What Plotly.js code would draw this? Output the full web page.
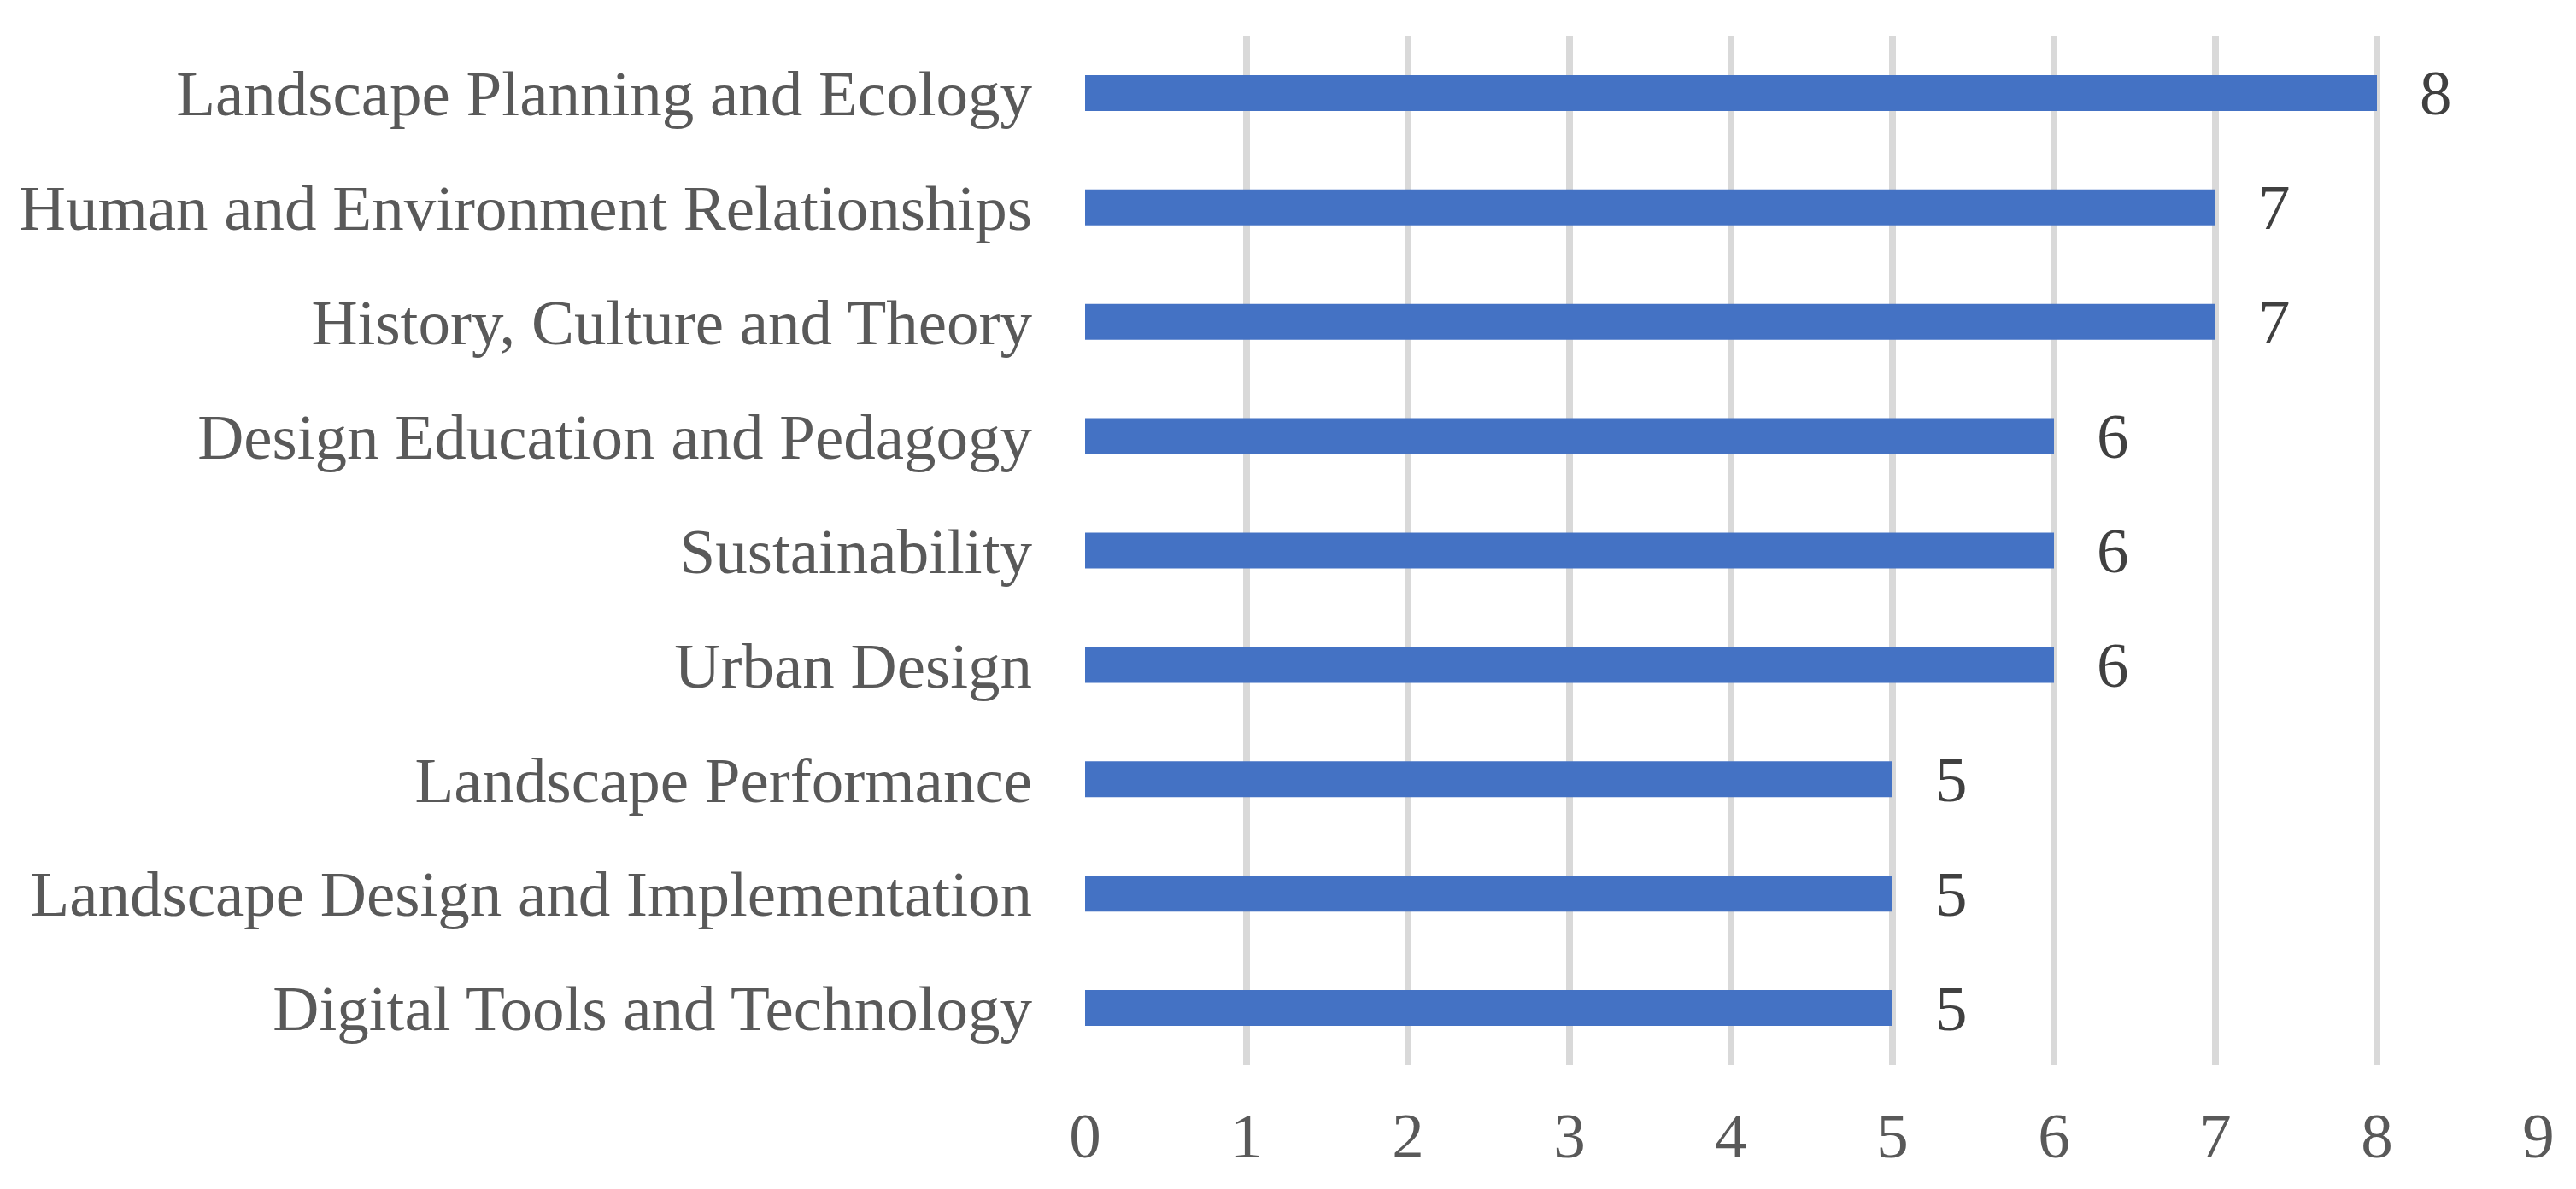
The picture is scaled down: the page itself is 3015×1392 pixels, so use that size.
<!DOCTYPE html>
<html>
<head>
<meta charset="utf-8">
<script src="https://cdn.plot.ly/plotly-3.0.1.min.js"></script>
<style>html,body{margin:0;padding:0;background:#fff;}#chart{width:3015px;height:1392px;}</style>
</head>
<body>
<div id="chart"></div>
<script>
const categories = [
  "Landscape Planning and Ecology",
  "Human and Environment Relationships",
  "History, Culture and Theory",
  "Design Education and Pedagogy",
  "Sustainability",
  "Urban Design",
  "Landscape Performance",
  "Landscape Design and Implementation",
  "Digital Tools and Technology"
];
const counts = [8, 7, 7, 6, 6, 6, 5, 5, 5];
const xTicks = [0, 1, 2, 3, 4, 5, 6, 7, 8, 9];

const fontFamily = '"Liberation Serif", "Times New Roman", serif';

const trace = {
  type: 'bar',
  orientation: 'h',
  y: categories,
  x: counts,
  marker: {color: '#4472c4', line: {width: 0}},
  hoverinfo: 'none'
};

const annotations = categories.map((c, i) => ({
  x: counts[i],
  y: c,
  xref: 'x',
  yref: 'y',
  text: String(counts[i]),
  showarrow: false,
  xanchor: 'left',
  yanchor: 'middle',
  xshift: 48,
  font: {family: fontFamily, size: 75, color: '#404040'}
}));

const layout = {
  width: 3015,
  height: 1392,
  margin: {l: 1270, r: 44, t: 42, b: 145},
  paper_bgcolor: '#ffffff',
  plot_bgcolor: '#ffffff',
  showlegend: false,
  bargap: 0.686,
  xaxis: {
    range: [0, 9],
    tickvals: xTicks,
    ticktext: xTicks.map(String),
    showgrid: true,
    gridcolor: '#d9d9d9',
    gridwidth: 8,
    zeroline: false,
    showline: false,
    ticks: '',
    ticklabelstandoff: 32,
    tickfont: {family: fontFamily, size: 75, color: '#595959'},
    fixedrange: true
  },
  yaxis: {
    autorange: 'reversed',
    showgrid: false,
    zeroline: false,
    showline: false,
    ticks: '',
    ticklabelstandoff: 61,
    tickfont: {family: fontFamily, size: 75, color: '#595959'},
    fixedrange: true
  },
  annotations: annotations
};

Plotly.newPlot('chart', [trace], layout, {displayModeBar: false, staticPlot: true});
</script>
</body>
</html>
